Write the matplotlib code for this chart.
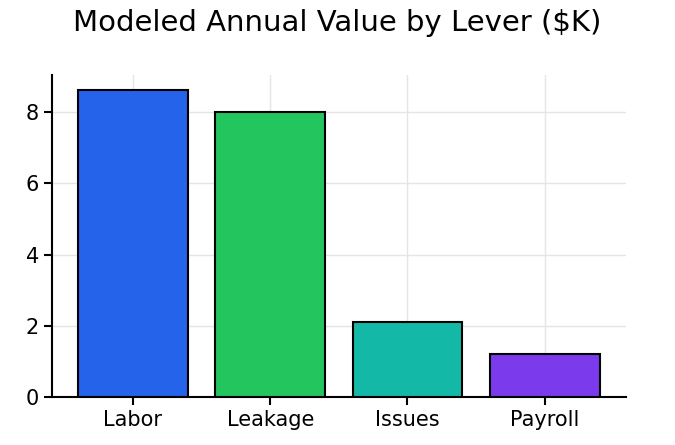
import matplotlib.pyplot as plt

levers = ["Labor", "Leakage", "Issues", "Payroll"]
values = [8.62, 8.0, 2.1, 1.2]
colors = ["#2563eb", "#22c55e", "#14b8a6", "#7c3aed"]

fig = plt.figure(figsize=(6.75, 4.45), dpi=100)
ax = fig.add_axes([0.077, 0.108, 0.85, 0.724])
ax.bar(levers, values, color=colors, edgecolor="black", linewidth=1.5, width=0.8, zorder=3)
ax.set_ylim(0, 9.05)
ax.set_yticks([0, 2, 4, 6, 8])
ax.grid(True, color="#e5e5e5", linewidth=1, zorder=0)
for s in ["top", "right"]:
    ax.spines[s].set_visible(False)
for s in ["left", "bottom"]:
    ax.spines[s].set_linewidth(1.5)
ax.tick_params(labelsize=15, width=1.5, length=6)
fig.text(0.5, 0.93, "Modeled Annual Value by Lever ($K)", ha="center", fontsize=21)
fig.savefig("out.png", dpi=100)
